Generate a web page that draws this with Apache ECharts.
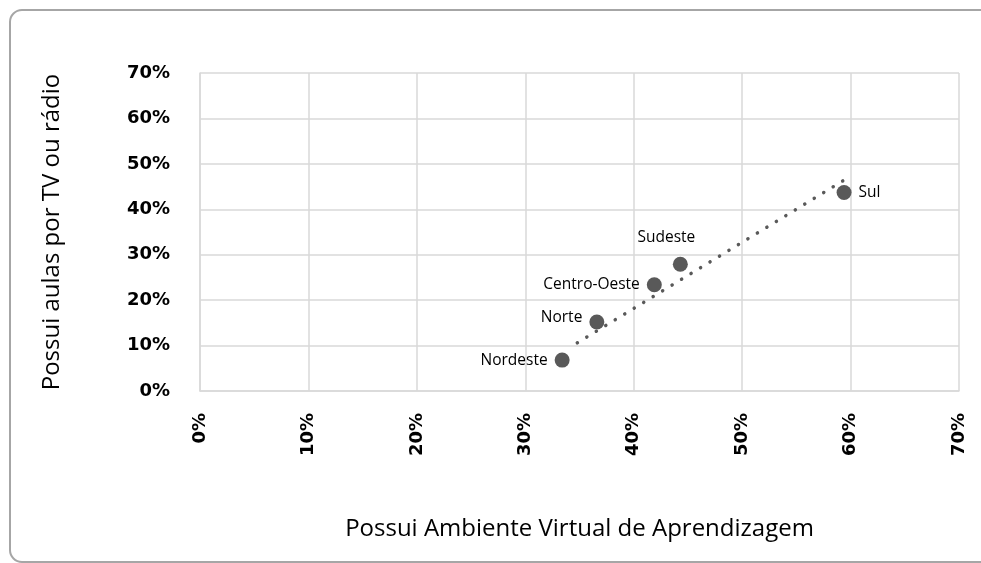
<!DOCTYPE html>
<html>
<head>
<meta charset="utf-8">
<script src="https://cdn.jsdelivr.net/npm/echarts@6/dist/echarts.min.js"></script>
<style>
    html, body { margin: 0; padding: 0; background: #fff; }
    #chart { width: 981px; height: 563px; }
</style>
</head>
<body>
<div id="chart"></div>
<script>
    // regiões e valores (%)
    const regioes = ['Nordeste', 'Norte', 'Centro-Oeste', 'Sudeste', 'Sul'];
    const ava = [33.4, 36.6, 41.9, 44.3, 59.4];      // Possui Ambiente Virtual de Aprendizagem
    const tvRadio = [6.8, 15.2, 23.4, 27.9, 43.7];   // Possui aulas por TV ou rádio
    // linha de tendência (extremos)
    const tendX = [34.8, 59.8];
    const tendY = [10.6, 47.0];
    const labelPos = ['left', 'left', 'left', 'top', 'right'];

    const chart = echarts.init(document.getElementById('chart'));

    const pontos = regioes.map(function (nome, i) {
        const item = {
            name: nome,
            value: [ava[i], tvRadio[i]],
            label: { position: labelPos[i] }
        };
        if (nome === 'Sudeste') item.label.offset = [-14, -4];
        if (nome === 'Norte') item.label.offset = [0, -4];
        return item;
    });

    const axisTxt = { fontFamily: 'DejaVu Sans', fontWeight: 'bold', fontSize: 18, color: '#000' };
    const nameTxt = { fontFamily: 'Open Sans', fontSize: 24, color: '#000' };
    const linha = { lineStyle: { color: '#d9d9d9', width: 1.5 } };

    const option = {
        animation: false,
        graphic: [{
            type: 'rect',
            shape: { x: 10, y: 10, width: 990, height: 552, r: 12 },
            style: { fill: 'none', stroke: '#a6a6a6', lineWidth: 2 }
        }],
        grid: { left: 200, top: 73, right: 22, bottom: 172 },
        xAxis: {
            type: 'value', min: 0, max: 70, interval: 10,
            name: 'Possui Ambiente Virtual de Aprendizagem',
            nameLocation: 'middle', nameGap: 126, nameTextStyle: nameTxt,
            axisLine: { show: true, lineStyle: { color: '#d9d9d9', width: 1.5 } },
            axisTick: { show: false },
            splitLine: linha,
            axisLabel: Object.assign({ rotate: 90, margin: 22, formatter: '{value}%' }, axisTxt)
        },
        yAxis: {
            type: 'value', min: 0, max: 70, interval: 10,
            name: 'Possui aulas por TV ou rádio',
            nameLocation: 'middle', nameGap: 136, nameTextStyle: nameTxt,
            axisLine: { show: true, lineStyle: { color: '#d9d9d9', width: 1.5 } },
            axisTick: { show: false },
            splitLine: linha,
            axisLabel: Object.assign({ margin: 30, formatter: '{value}%' }, axisTxt)
        },
        series: [{
            type: 'line',
            data: tendX.map(function (x, i) { return [x, tendY[i]]; }),
            symbol: 'none',
            silent: true,
            lineStyle: { color: '#595959', width: 3.5, type: [0.1, 11], cap: 'round' },
            z: 1
        }, {
            type: 'scatter',
            data: pontos,
            symbolSize: 15,
            itemStyle: { color: '#595959', opacity: 1 },
            label: {
                show: true,
                formatter: '{b}',
                fontFamily: 'Open Sans',
                fontSize: 15.5,
                color: '#000',
                distance: 7
            },
            z: 2
        }]
    };
    chart.setOption(option);
</script>
</body>
</html>
